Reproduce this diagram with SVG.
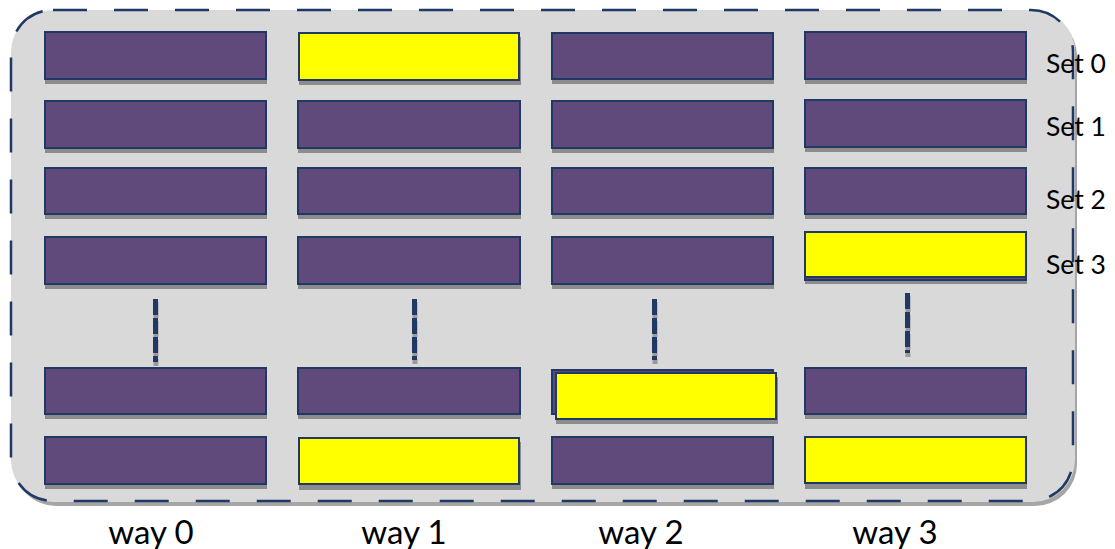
<svg xmlns="http://www.w3.org/2000/svg" width="1115" height="549" viewBox="0 0 1115 549">
  <defs>
    <style>
      .frame-shadow { fill: #a6a6a6; }
      .frame { fill: #d9d9d9; }
      .frame-line { fill: none; stroke: #1f3864; stroke-width: 2.5; stroke-dasharray: 34 27; }
      .shadow { fill: #8c8c8c; }
      .line { fill: #604a7b; stroke: #1f3864; stroke-width: 2; }
      .hit { fill: #ffff00; stroke: #1f3864; stroke-width: 2; }
      .dots { stroke: #1f3864; stroke-width: 5; stroke-dasharray: 16 3; }
      .dots-shadow { stroke: #9a9a9a; stroke-width: 5; stroke-dasharray: 16 3; }
      .set { font-family: Lato, "Liberation Sans", sans-serif; font-size: 26.5px; fill: #000; }
      .way { font-family: Lato, "Liberation Sans", sans-serif; font-size: 33px; fill: #000; text-anchor: middle; }
    </style>
  </defs>

  <!-- cache outline -->
  <g id="cache">
    <rect class="frame-shadow" x="14" y="14" width="1063" height="492" rx="42"/>
    <rect class="frame" x="11" y="10" width="1064" height="492" rx="42"/>
    <rect class="frame-line" x="11" y="10" width="1062" height="491" rx="42"/>
  </g>

  <!-- way 0 -->
  <g id="way0">
    <rect class="shadow" x="45" y="36" width="222" height="48"/>
    <rect class="line" x="45" y="32" width="221" height="47"/>
    <rect class="shadow" x="45" y="105" width="222" height="48"/>
    <rect class="line" x="45" y="101" width="221" height="47"/>
    <rect class="shadow" x="45" y="172" width="222" height="47"/>
    <rect class="line" x="45" y="168" width="221" height="46"/>
    <rect class="shadow" x="45" y="241" width="222" height="48"/>
    <rect class="line" x="45" y="237" width="221" height="47"/>
    <rect class="shadow" x="45" y="372" width="222" height="47"/>
    <rect class="line" x="45" y="368" width="221" height="46"/>
    <rect class="shadow" x="45" y="441" width="222" height="48"/>
    <rect class="line" x="45" y="437" width="221" height="47"/>
  </g>

  <!-- way 1 -->
  <g id="way1">
    <rect class="shadow" x="299" y="37" width="222" height="48"/>
    <rect class="hit" x="299" y="33" width="220" height="47"/>
    <rect class="shadow" x="298" y="105" width="223" height="48"/>
    <rect class="line" x="298" y="101" width="222" height="47"/>
    <rect class="shadow" x="298" y="172" width="223" height="47"/>
    <rect class="line" x="298" y="168" width="222" height="46"/>
    <rect class="shadow" x="298" y="241" width="223" height="48"/>
    <rect class="line" x="298" y="237" width="222" height="47"/>
    <rect class="shadow" x="298" y="372" width="223" height="47"/>
    <rect class="line" x="298" y="368" width="222" height="46"/>
    <rect class="shadow" x="299" y="442" width="222" height="48"/>
    <rect class="hit" x="299" y="438" width="220" height="46"/>
  </g>

  <!-- way 2 -->
  <g id="way2">
    <rect class="shadow" x="552" y="37" width="222" height="47"/>
    <rect class="line" x="552" y="33" width="221" height="46"/>
    <rect class="shadow" x="552" y="105" width="222" height="48"/>
    <rect class="line" x="552" y="101" width="221" height="47"/>
    <rect class="shadow" x="552" y="172" width="222" height="47"/>
    <rect class="line" x="552" y="168" width="221" height="46"/>
    <rect class="shadow" x="552" y="241" width="222" height="48"/>
    <rect class="line" x="552" y="237" width="221" height="47"/>
    <rect class="line" x="552" y="370" width="221" height="44"/>
    <rect class="shadow" x="556" y="377" width="222" height="47"/>
    <rect class="hit" x="556" y="373" width="220" height="46"/>
    <rect class="shadow" x="552" y="441" width="222" height="48"/>
    <rect class="line" x="552" y="437" width="221" height="47"/>
  </g>

  <!-- way 3 -->
  <g id="way3">
    <rect class="shadow" x="805" y="36" width="222" height="48"/>
    <rect class="line" x="805" y="32" width="221" height="47"/>
    <rect class="shadow" x="805" y="104" width="222" height="48"/>
    <rect class="line" x="805" y="100" width="221" height="47"/>
    <rect class="shadow" x="805" y="172" width="222" height="47"/>
    <rect class="line" x="805" y="168" width="221" height="46"/>
    <rect class="shadow" x="805" y="237" width="222" height="47"/>
    <rect class="line" x="805" y="234" width="221" height="46"/>
    <rect class="hit" x="805" y="232" width="221" height="45"/>
    <rect class="shadow" x="805" y="372" width="222" height="47"/>
    <rect class="line" x="805" y="368" width="221" height="46"/>
    <rect class="shadow" x="805" y="441" width="222" height="48"/>
    <rect class="hit" x="805" y="437" width="221" height="46"/>
  </g>

  <!-- elided sets between Set 3 and the last rows -->
  <g id="connectors">
    <line class="dots-shadow" x1="156" y1="302" x2="156" y2="366"/>
    <line class="dots" x1="155.5" y1="299" x2="155.5" y2="362"/>
    <line class="dots-shadow" x1="415" y1="302" x2="415" y2="364"/>
    <line class="dots" x1="414.5" y1="299" x2="414.5" y2="360"/>
    <line class="dots-shadow" x1="655" y1="302" x2="655" y2="364"/>
    <line class="dots" x1="654.5" y1="299" x2="654.5" y2="360"/>
    <line class="dots-shadow" x1="908" y1="296" x2="908" y2="357"/>
    <line class="dots" x1="907.5" y1="293" x2="907.5" y2="353"/>
  </g>

  <!-- set labels -->
  <g id="set-labels">
    <text class="set" x="1046" y="73">Set 0</text>
    <text class="set" x="1046" y="136">Set 1</text>
    <text class="set" x="1046" y="209">Set 2</text>
    <text class="set" x="1046" y="274">Set 3</text>
  </g>

  <!-- way labels -->
  <g id="way-labels">
    <text class="way" x="151" y="544">way 0</text>
    <text class="way" x="404" y="544">way 1</text>
    <text class="way" x="641" y="544">way 2</text>
    <text class="way" x="895" y="544">way 3</text>
  </g>
</svg>
